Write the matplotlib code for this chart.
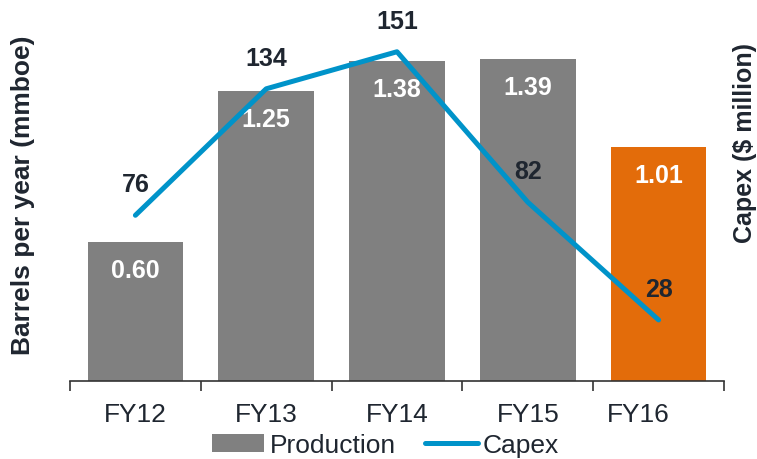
import numpy as np
import matplotlib
matplotlib.use("Agg")
import matplotlib.pyplot as plt
import matplotlib.transforms as mtransforms

years = ["FY12", "FY13", "FY14", "FY15", "FY16"]
production = [0.60, 1.25, 1.38, 1.39, 1.01]   # mmboe
capex = [76, 134, 151, 82, 28]                # $ million
bar_colors = ["#808080", "#808080", "#808080", "#808080", "#E36C0A"]

plt.rcParams["font.family"] = ["Liberation Sans", "DejaVu Sans"]
text_col = "#1f2630"

fig = plt.figure(figsize=(7.57, 4.60), dpi=100)
ax = fig.add_axes([70 / 757, 78 / 460, 654 / 757, 372 / 460])
ax2 = ax.twinx()

x = np.arange(len(years))
bars = ax.bar(x, production, width=0.73, color=bar_colors, label="Production", zorder=1)
line, = ax2.plot(x, capex, color="#0093C9", lw=3.6, solid_capstyle="round", label="Capex")

ax.set_xlim(-0.5, len(years) - 0.5)
ax.set_ylim(0, 1.606)
ax2.set_ylim(0, 170.6)

# bar values inside the top of each bar
for xi, v in zip(x, production):
    ax.annotate(f"{v:.2f}", (xi, v), xytext=(0, -28), textcoords="offset pixels",
                ha="center", va="center", color="white", fontsize=18, fontweight="bold")

# capex values above each point
for xi, v in zip(x, capex):
    ax2.annotate(f"{v}", (xi, v), xytext=(0, 31), textcoords="offset pixels",
                 ha="center", va="center", color=text_col, fontsize=18, fontweight="bold")

for a in (ax, ax2):
    for s in ("top", "left", "right"):
        a.spines[s].set_visible(False)
    a.set_yticks([])
ax2.spines["bottom"].set_visible(False)
ax.spines["bottom"].set_color("#333333")
ax.spines["bottom"].set_linewidth(1.2)

ax.set_xticks(x)
ax.set_xticklabels(years, fontsize=19, color=text_col)
ax.tick_params(axis="x", which="major", length=0, pad=15)
ax.set_xticks(np.arange(len(years) + 1) - 0.5, minor=True)
ax.tick_params(axis="x", which="minor", length=7, width=1.2, color="#333333", direction="out")

# last category label sits a bit left of its bar
lbl = ax.get_xticklabels()[-1]
lbl.set_transform(lbl.get_transform() + mtransforms.ScaledTranslation(-20 / 100, 0, fig.dpi_scale_trans))

ax.set_ylabel("Barrels per year (mmboe)", fontsize=19, fontweight="bold", color=text_col)
ax.yaxis.set_label_coords(-0.054, 0.503)
ax2.set_ylabel("Capex ($ million)", fontsize=18, fontweight="bold", color=text_col)
ax2.yaxis.set_label_coords(1.013, 0.642)

fig.legend([bars, line], ["Production", "Capex"], loc="lower center", bbox_to_anchor=(0.509, -0.048),
           ncol=2, frameon=False, fontsize=19, handlelength=2.0, handletextpad=0.2,
           columnspacing=1.1, labelcolor=text_col)

fig.savefig("out.png", dpi=100)
